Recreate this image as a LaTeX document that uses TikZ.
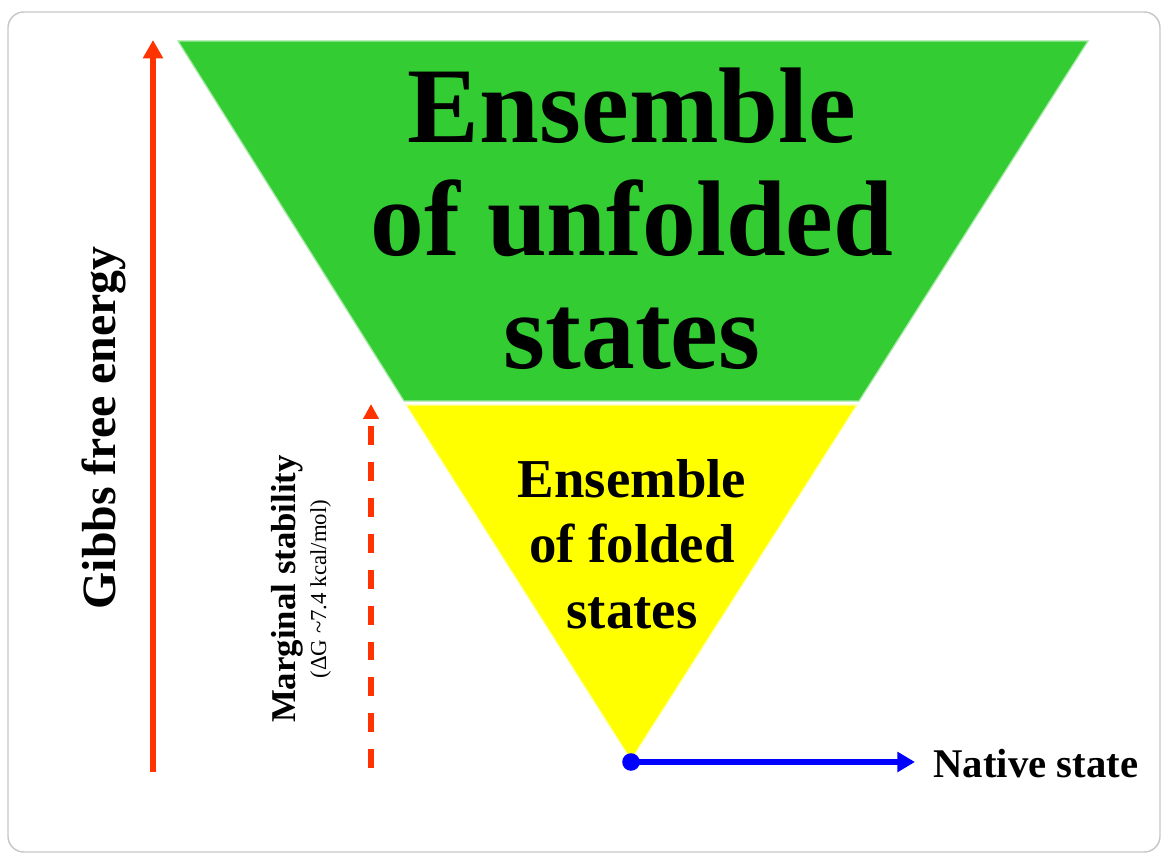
\documentclass[tikz,border=0pt]{standalone}
\usepackage{fontspec}
\setmainfont{Liberation Serif}
\usetikzlibrary{arrows.meta,positioning}
\definecolor{unfoldgreen}{HTML}{33CC33}
\definecolor{foldyellow}{HTML}{FFFF00}
\definecolor{energyred}{HTML}{FF3300}
\tikzstyle{frame} = [draw=black!22, line width=0.8pt, rounded corners=9pt]
\tikzstyle{energy} = [energyred, line width=3.4pt, -{Triangle[width=11pt,length=10.5pt]}]
\tikzstyle{margin} = [energyred, line width=3.2pt, dash pattern=on 10.8pt off 9.6pt, -{Triangle[width=8.5pt,length=8.5pt]}]
\tikzstyle{native} = [blue, line width=3.6pt, -{Triangle[width=11pt,length=10pt]}]
\tikzstyle{label} = [inner sep=0pt, align=center]

\begin{document}
\begin{tikzpicture}[x=0.02cm, y=-0.02cm]
    \useasboundingbox (0,0) rectangle (1163,855);
    \draw [frame] (8,12) rectangle (1160,852);
    % the two levels of the funnel
    \filldraw [fill=unfoldgreen, draw=white!55!unfoldgreen, line width=0.7pt]
        (178,41) -- (1088,41) -- (859,401) -- (404,401) -- cycle;
    \filldraw [fill=foldyellow, draw=white!70!foldyellow, line width=0.7pt]
        (406,405) -- (857,405) -- (631,760) -- cycle;
    \node (unfolded) [label, anchor=base, font=\fontsize{61.2}{64.1}\selectfont\bfseries] at (632,368)
        {Ensemble\\of unfolded\\states};
    \node (folded) [label, anchor=base, font=\fontsize{31.2}{37.1}\selectfont\bfseries] at (632,628)
        {Ensemble\\of folded\\states};
    % energy axis
    \coordinate (gbot) at (153,772);
    \coordinate (gtop) at (153,40);
    \draw [energy] (gbot) -- (gtop);
    \node (gibbs) [label, anchor=base, rotate=90, font=\fontsize{27.2}{30}\selectfont\bfseries] at (115,428)
        {Gibbs free energy};
    % marginal stability
    \coordinate (mbot) at (371,768);
    \coordinate (mtop) at (371,404);
    \draw [margin] (mbot) -- (mtop);
    \node (stab) [label, anchor=base, rotate=90, font=\fontsize{19.8}{17.6}\selectfont] at (326,589)
        {\textbf{Marginal stability}\\{\fontsize{13}{17.6}\selectfont (ΔG \textasciitilde7.4 kcal/mol)}};
    % native state
    \node (dot) [circle, fill=blue, inner sep=0pt, minimum size=10pt] at (631,762) {};
    \coordinate (tip) at (915,762);
    \draw [native] (dot.center) -- (tip);
    \node (nat) [label, anchor=base west, font=\fontsize{23.2}{26}\selectfont\bfseries] at (933,777)
        {Native state};
\end{tikzpicture}
\end{document}
